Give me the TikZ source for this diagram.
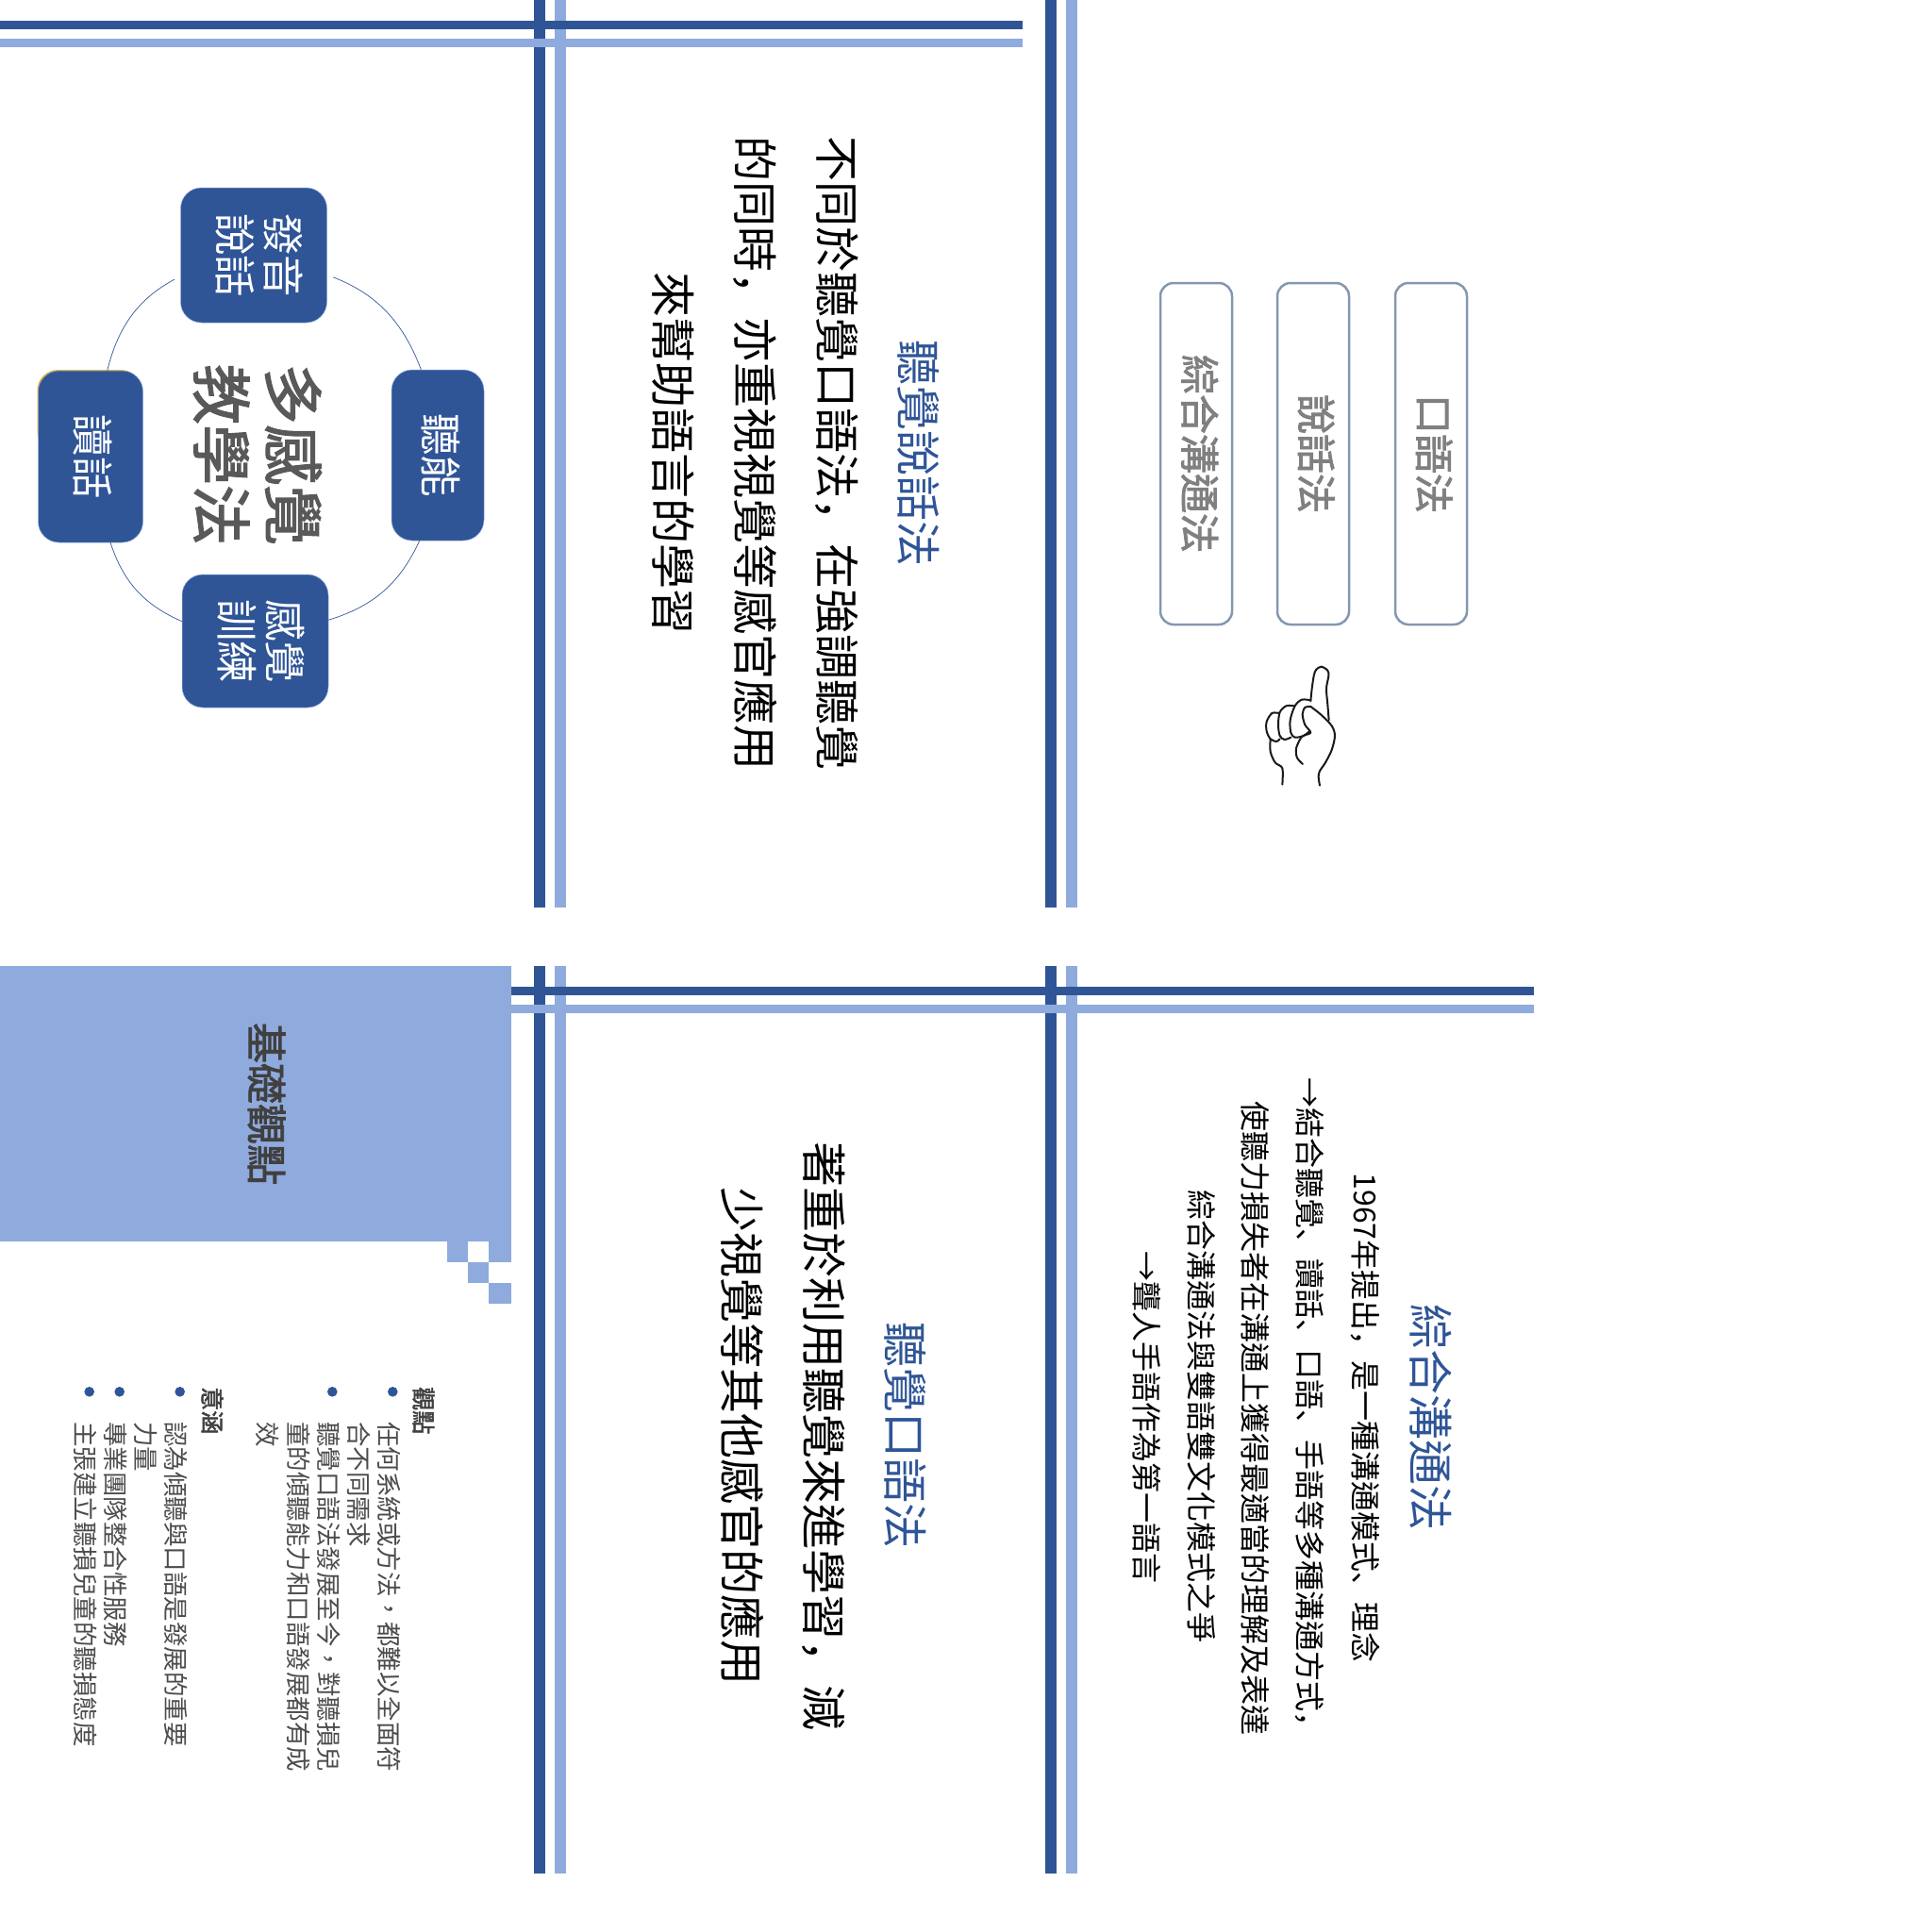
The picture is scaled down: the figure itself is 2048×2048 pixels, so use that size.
\documentclass[tikz,border=0pt]{standalone}
\usepackage{fontspec}
\setmainfont{Noto Sans CJK TC}
\newfontfamily\puncfont{Noto Sans CJK JP}
\newfontfamily\semibd[FakeBold=2]{Noto Sans CJK TC}
\newcommand{\cma}{{\puncfont\char"FF0C}}
\newcommand{\dun}{{\puncfont\char"3001}}
\newcommand{\tcm}{\char"FF0C}
\newcommand{\fsz}[2]{\fontsize{#1}{#2}\selectfont}
\newcommand{\lift}[1]{\rule[-#1]{0pt}{1pt}}
\definecolor{darkblue}{HTML}{2F5597}
\definecolor{lightblue}{HTML}{8FAADC}
\definecolor{edgegrey}{HTML}{8497B0}
\definecolor{goldedge}{HTML}{F0B323}
\tikzset{
  vtext/.style={rotate=-90,align=center,inner sep=0pt},
  headtext/.style={vtext,text=darkblue,font=\fsz{48}{87}},
  bigtext/.style={vtext,text=black,font=\fsz{48}{87}},
  midtext/.style={vtext,text=black,font=\fsz{32}{58}},
  listtext/.style={vtext,anchor=west,text=black!70,font=\fsz{26.5}{32},text height=23pt,text depth=3pt},
  listhead/.style={vtext,anchor=west,text=black!75,font=\semibd\fsz{25}{32},text height=22pt,text depth=3pt},
  bluebox/.style={rotate=-90,draw=lightblue,line width=0.5pt,fill=darkblue,text=white,rounded corners=22pt,align=center,inner sep=0pt,font=\fsz{44.5}{51}},
  methodbox/.style={rotate=-90,draw=edgegrey,line width=2.5pt,fill=white,text=black!50,rounded corners=14pt,minimum width=362pt,minimum height=76pt,inner sep=0pt,font=\semibd\fsz{42}{50}},
  ringline/.style={draw=darkblue,line width=0.7pt},
  handline/.style={draw=black!90,line width=2pt,line cap=round,line join=round}
}
\begin{document}
\begin{tikzpicture}[x=1pt,y=-1pt]
\useasboundingbox (0,0) rectangle (2048,2048);
% vertical bars
\foreach\yb/\ye in {0/962,1024/1986} {
  \foreach\xb/\c in {566/darkblue,588/lightblue,1108/darkblue,1130/lightblue} {
    \fill[\c] (\xb,\yb) rectangle (\xb+12,\ye);
  }
}
% horizontal bars
\foreach\xb/\xe/\yb in {0/1084/0,542/1626/1024} {
  \fill[darkblue] (\xb,\yb+22) rectangle (\xe,\yb+31);
  \fill[lightblue] (\xb,\yb+41) rectangle (\xe,\yb+50);
}
% first slide
\fill[goldedge,rounded corners=22pt] (39.5,392) rectangle (150,480);
\node[bluebox,minimum width=143pt,minimum height=155pt] (speak) at (269,270.5) {發音\\說話\lift{16pt}};
\node[bluebox,minimum width=181pt,minimum height=98pt] (hear) at (464,482.5) {聽能\lift{10pt}};
\node[bluebox,minimum width=141pt,minimum height=155pt] (sense) at (270.5,679.5) {感覺\\訓練\lift{16pt}};
\node[bluebox,minimum width=182pt,minimum height=111pt] (read) at (96,484) {讀話\lift{9pt}};
\node[vtext,text=black!65,font=\semibd\fsz{64}{76}] (multi) at (273,482) {多感覺\\教學法};
\draw[ringline,shorten <=7pt] (speak.75) to[bend left=24] (hear.191);
\draw[ringline] (hear.-12) to[bend left=24] (sense.106);
\draw[ringline] (sense.255) to[bend left=24] (read.13);
\draw[ringline,shorten >=7pt] (read.169) to[bend left=24] (speak.286);
% second slide
\node[headtext] (oraltitle) at (974,480) {聽覺說話法};
\node[bigtext] (oralbody) at (801,480) {不同於聽覺口語法\cma 在強調聽覺\\的同時\cma 亦重視視覺等感官應用\\來幫助語言的學習};
% third slide
\node[methodbox] (total) at (1268,481) {綜合溝通法\lift{11pt}};
\node[methodbox] (talk) at (1392,481) {說話法\lift{10pt}};
\node[methodbox] (oral) at (1517,481) {口語法\lift{10pt}};
\begin{scope}[shift={(1300,680)},x=0.3333pt,y=-0.3333pt]
\draw[handline] plot[smooth] coordinates {(268,190) (272,150) (278,110) (285,90) (302,80) (322,92) (325,110) (318,150) (322,200) (326,250)};
\draw[handline] plot[smooth] coordinates {(268,207) (300,232) (335,268) (345,300) (335,345) (315,385) (297,412) (293,430) (297,458)};
\draw[handline] plot[smooth] coordinates {(268,207) (250,210) (242,232) (250,265) (268,290) (240,303) (222,340) (225,370) (243,390)};
\draw[handline] plot[smooth] coordinates {(268,187) (240,185) (218,205) (203,250) (205,290) (218,305) (245,300) (265,285)};
\draw[handline] plot[smooth] coordinates {(215,205) (190,205) (170,225) (165,265) (170,300) (185,312) (205,305)};
\draw[handline] plot[smooth] coordinates {(168,228) (145,228) (128,255) (128,285) (140,310) (160,318) (170,310)};
\draw[handline] plot[smooth] coordinates {(140,310) (140,350) (155,385) (178,403) (178,455)};
\end{scope}
% fourth slide
\fill[lightblue] (0,1024) rectangle (542,1316);
\fill[lightblue] (474,1316) rectangle (496,1338);
\fill[lightblue] (518,1316) rectangle (542,1338);
\fill[lightblue] (496,1338) rectangle (518,1360);
\fill[lightblue] (518,1360) rectangle (542,1382);
\node[vtext,text=black!75,font=\semibd\fsz{43}{50}] (basetitle) at (282.5,1170) {基礎觀點};
\node[listhead] (viewhead) at (449,1470) {觀點};
\node[listhead] (meanhead) at (225,1470) {意涵};
\foreach\x/\t in {412/任何系統或方法\tcm 都難以全面符,380/合不同需求,348/聽覺口語法發展至今\tcm 對聽損兒,316/童的傾聽能力和口語發展都有成,283/效,186.7/認為傾聽與口語是發展的重要,154.3/力量,122.7/專業團隊整合性服務,90.7/主張建立聽損兒童的聽損態度} {
  \node[listtext] at (\x,1507) {\t};
}
\foreach\x in {416.3,352.3,190.7,126.7,94.7} {
  \fill[darkblue] (\x,1475.3) circle (5.3pt);
}
% fifth slide
\node[headtext] (audtitle) at (960,1521) {聽覺口語法};
\node[bigtext] (audbody) at (830.5,1522) {著重於利用聽覺來進學習\cma 減\\少視覺等其他感官的應用};
% sixth slide
\node[headtext] (totaltitle) at (1516.5,1502) {綜合溝通法};
\node[midtext] (totalone) at (1447,1503) {1967年提出\cma 是一種溝通模式\dun 理念};
\node[midtext] (totaltwo) at (1388.5,1494.5) {→結合聽覺\dun 讀話\dun 口語\dun 手語等多種溝通方式\cma};
\node[midtext] (totalthree) at (1331,1503) {使聽力損失者在溝通上獲得最適當的理解及表達};
\node[midtext] (totalfour) at (1274,1501.5) {綜合溝通法與雙語雙文化模式之爭};
\node[midtext] (totalfive) at (1215.5,1502) {→聾人手語作為第一語言};
\end{tikzpicture}
\end{document}
